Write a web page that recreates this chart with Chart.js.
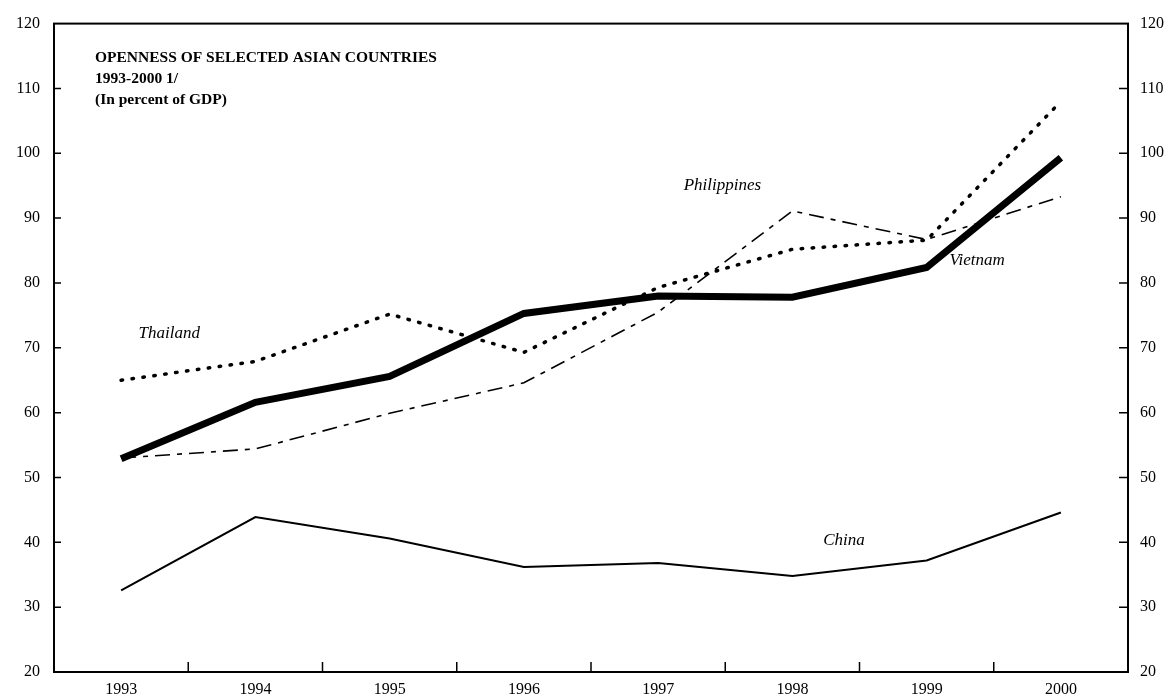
<!DOCTYPE html>
<html>
<head>
<meta charset="utf-8">
<script src="https://cdn.jsdelivr.net/npm/chart.js@4"></script>
<style>
  html, body { margin: 0; padding: 0; background: #fff; }
  #wrap { width: 1170px; height: 698px; }
</style>
</head>
<body>
<div id="wrap"><canvas id="chart"></canvas></div>
<script>
// Values (percent of GDP)
const years = ['1993', '1994', '1995', '1996', '1997', '1998', '1999', '2000'];
const vietnam = [52.9, 61.6, 65.6, 75.3, 78.0, 77.8, 82.4, 99.3];
const thailand = [65.0, 67.9, 75.2, 69.3, 79.3, 85.2, 86.6, 108.0];
const philippines = [53.0, 54.4, 59.9, 64.6, 75.5, 91.1, 86.7, 93.3];
const china = [32.6, 43.9, 40.6, 36.2, 36.8, 34.8, 37.2, 44.6];
const yMin = 20;
const yMax = 120;
const yStep = 10;

const titleLines = ['OPENNESS OF SELECTED ASIAN COUNTRIES', '1993-2000 1/', '(In percent of GDP)'];
const seriesNames = ['Thailand', 'Philippines', 'Vietnam', 'China'];

const serif = '"Liberation Serif", "DejaVu Serif", serif';

// where the series names sit, in (category index, value) terms
const nameAnchors = [[0.13, 72.2], [4.19, 95.0], [6.17, 83.5], [5.23, 40.3]];

// frame, inward tick marks, title and series names
const decorations = {
    id: 'decorations',
    afterDraw(chart) {
        const ctx = chart.ctx;
        const a = chart.chartArea;
        const x = chart.scales.x;
        const y = chart.scales.y;
        ctx.save();
        ctx.strokeStyle = '#000';
        ctx.lineWidth = 2;
        ctx.strokeRect(a.left, a.top, a.right - a.left, a.bottom - a.top);

        ctx.lineWidth = 1.5;
        ctx.beginPath();
        for (let v = yMin + yStep; v < yMax; v += yStep) {
            const py = y.getPixelForValue(v);
            ctx.moveTo(a.left, py);
            ctx.lineTo(a.left + 7, py);
            ctx.moveTo(a.right, py);
            ctx.lineTo(a.right - 9, py);
        }
        for (let i = 0; i < years.length - 1; i++) {
            const px = x.getPixelForValue(i + 0.5);
            ctx.moveTo(px, a.bottom);
            ctx.lineTo(px, a.bottom - 10);
        }
        ctx.stroke();

        ctx.fillStyle = '#000';
        ctx.textBaseline = 'alphabetic';
        ctx.textAlign = 'left';
        ctx.font = 'bold 15.5px ' + serif;
        titleLines.forEach((t, i) => {
            ctx.fillText(t, a.left + 41, a.top + 38 + i * 21);
        });

        ctx.font = 'italic 17px ' + serif;
        ctx.textBaseline = 'middle';
        seriesNames.forEach((name, i) => {
            const [ix, v] = nameAnchors[i];
            ctx.fillText(name, x.getPixelForValue(ix), y.getPixelForValue(v));
        });
        ctx.restore();
    }
};

new Chart(document.getElementById('chart'), {
    type: 'line',
    data: {
        labels: years,
        datasets: [
            {
                label: 'Vietnam',
                data: vietnam,
                borderColor: '#000',
                borderWidth: 7,
                borderJoinStyle: 'miter',
                pointRadius: 0,
                tension: 0
            },
            {
                label: 'Thailand',
                data: thailand,
                borderColor: '#000',
                borderWidth: 3.5,
                borderDash: [1.5, 9.5],
                borderCapStyle: 'round',
                pointRadius: 0,
                tension: 0
            },
            {
                label: 'Philippines',
                data: philippines,
                borderColor: '#000',
                borderWidth: 1.6,
                borderDash: [15, 7, 5, 7],
                pointRadius: 0,
                tension: 0
            },
            {
                label: 'China',
                data: china,
                borderColor: '#000',
                borderWidth: 2,
                pointRadius: 0,
                tension: 0
            }
        ]
    },
    options: {
        responsive: true,
        maintainAspectRatio: false,
        animation: false,
        layout: { padding: { top: 19, left: 0, right: 0, bottom: 0 } },
        plugins: {
            legend: { display: false },
            tooltip: { enabled: false }
        },
        scales: {
            x: {
                type: 'category',
                offset: true,
                grid: { display: false, drawTicks: false, offset: true },
                border: { display: false },
                ticks: {
                    color: '#000',
                    font: { family: serif, size: 16 },
                    padding: 8,
                    maxRotation: 0
                },
                afterFit: s => { s.height = 26; }
            },
            y: {
                position: 'left',
                min: yMin,
                max: yMax,
                grid: { display: false, drawTicks: false },
                border: { display: false },
                ticks: {
                    stepSize: yStep,
                    color: '#000',
                    font: { family: serif, size: 16 },
                    padding: 14
                },
                afterFit: s => { s.width = 54; }
            },
            y2: {
                position: 'right',
                min: yMin,
                max: yMax,
                grid: { display: false, drawTicks: false },
                border: { display: false },
                ticks: {
                    stepSize: yStep,
                    color: '#000',
                    font: { family: serif, size: 16 },
                    padding: 12
                },
                afterFit: s => { s.width = 42; }
            }
        }
    },
    plugins: [decorations]
});
</script>
</body>
</html>
